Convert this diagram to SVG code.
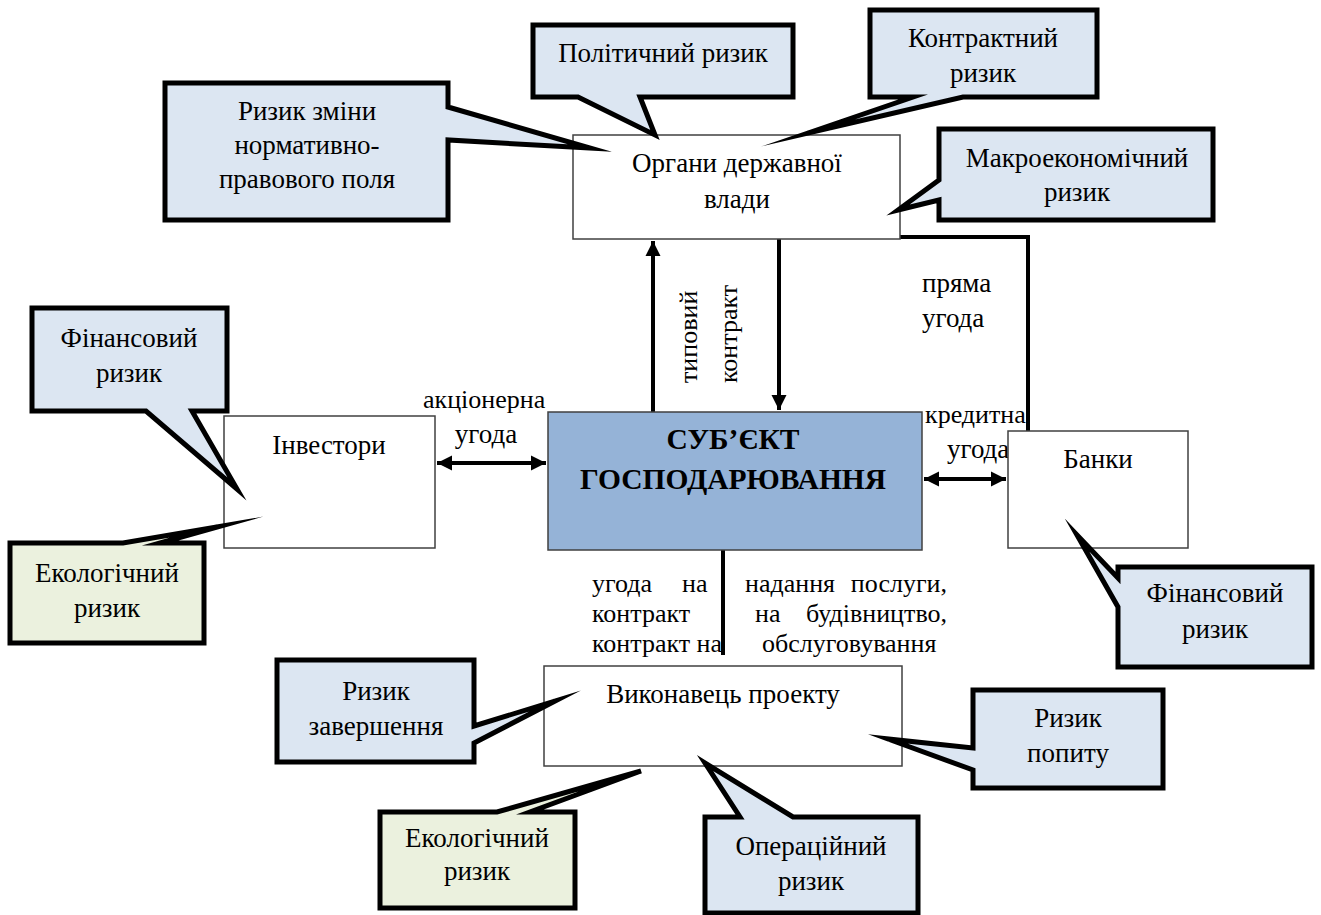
<svg xmlns="http://www.w3.org/2000/svg" width="1321" height="915" viewBox="0 0 1321 915">
<style>
text{font-family:"Liberation Serif", "Times New Roman", serif;font-size:27px;fill:#000}
.c{text-anchor:middle}
.e{text-anchor:end}
.b{font-weight:bold;font-size:29.5px}
.co{stroke:#000;stroke-width:5;stroke-linejoin:miter;stroke-miterlimit:20}
.blue{fill:#dce6f2}
.green{fill:#ebf1de}
.node{fill:#fff;stroke:#404040;stroke-width:1.5}
.main{fill:#95b3d7;stroke:#404040;stroke-width:1.5}
.ln{stroke:#000;stroke-width:4;fill:none}
.v{font-size:26px}
</style>
<defs>
<marker id="ah" viewBox="0 0 10 10" refX="10" refY="5" markerWidth="3.8" markerHeight="3.8" orient="auto-start-reverse" markerUnits="strokeWidth">
<path d="M0,0 L10,5 L0,10 Z" fill="#000"/>
</marker>
</defs>
<rect width="1321" height="915" fill="#fff"/>

<g id="connectors">
<line class="ln" x1="653" y1="412" x2="653" y2="241" marker-end="url(#ah)"/>
<line class="ln" x1="779" y1="239" x2="779" y2="410" marker-end="url(#ah)"/>
<line class="ln" x1="437" y1="463" x2="546" y2="463" marker-start="url(#ah)" marker-end="url(#ah)"/>
<line class="ln" x1="924" y1="479" x2="1006" y2="479" marker-start="url(#ah)" marker-end="url(#ah)"/>
<polyline class="ln" points="900,237 1028,237 1028,431"/>
<line class="ln" x1="723" y1="550" x2="723" y2="655"/>
<text class="v" transform="translate(697,383) rotate(-90)">типовий</text>
<text class="v" transform="translate(737,383) rotate(-90)">контракт</text>
<text x="922" y="292">пряма</text>
<text x="922" y="327">угода</text>
<text class="v" x="925" y="423">кредитна</text>
<text x="947" y="458">угода</text>
<text class="v" x="423" y="408">акціонерна</text>
<text class="c" x="486" y="443">угода</text>
<text class="v" x="592" y="592">угода</text>
<text class="v" x="682" y="592">на</text>
<text class="v" x="745" y="592">надання</text>
<text class="v e" x="947" y="592">послуги,</text>
<text class="v" x="592" y="622">контракт</text>
<text class="v" x="755" y="622">на</text>
<text class="v e" x="947" y="622">будівництво,</text>
<text class="v" x="592" y="652">контракт на</text>
<text class="v" x="762" y="652">обслуговування</text>
</g>

<g id="organy">
<rect class="node" x="573" y="135" width="327" height="104"/>
<text class="c" x="737" y="172">Органи державної</text>
<text class="c" x="737" y="208">влади</text>
</g>

<g id="subiekt">
<rect class="main" x="548" y="412" width="374" height="138"/>
<text class="c b" x="733" y="449">СУБ’ЄКТ</text>
<text class="c b" x="733" y="489">ГОСПОДАРЮВАННЯ</text>
</g>

<g id="investory">
<rect class="node" x="224" y="416" width="211" height="132"/>
<text class="c" x="329" y="454">Інвестори</text>
</g>

<g id="banky">
<rect class="node" x="1008" y="431" width="180" height="117"/>
<text class="c" x="1098" y="468">Банки</text>
</g>

<g id="vykonavets">
<rect class="node" x="544" y="666" width="358" height="100"/>
<text class="c" x="723" y="703">Виконавець проекту</text>
</g>

<g id="polit-ryzyk">
<path class="co blue" d="M533,25 H793 V97 H640 L655,135 L578,97 H533 Z"/>
<text class="c" x="663" y="62">Політичний ризик</text>
</g>

<g id="norm-ryzyk">
<path class="co blue" d="M165,83 H448 V107 L590,148 L448,140 V220 H165 Z"/>
<text class="c" x="307" y="120">Ризик зміни</text>
<text class="c" x="307" y="154">нормативно-</text>
<text class="c" x="307" y="188">правового поля</text>
</g>

<g id="kontr-ryzyk">
<path class="co blue" d="M870,10 H1097 V97 H963 L808,133 L913,97 H870 Z"/>
<text class="c" x="983" y="47">Контрактний</text>
<text class="c" x="983" y="82">ризик</text>
</g>

<g id="makro-ryzyk">
<path class="co blue" d="M939,129 H1213 V220 H939 V200 L898,210 L939,180 Z"/>
<text class="c" x="1077" y="167">Макроекономічний</text>
<text class="c" x="1077" y="201">ризик</text>
</g>

<g id="fin-ryzyk-1">
<path class="co blue" d="M32,308 H227 V411 H192 L237,489 L146,411 H32 Z"/>
<text class="c" x="129" y="347">Фінансовий</text>
<text class="c" x="129" y="382">ризик</text>
</g>

<g id="eko-ryzyk-1">
<path class="co green" d="M10,543 H123 L217,527 L160,543 H204 V643 H10 Z"/>
<text class="c" x="107" y="582">Екологічний</text>
<text class="c" x="107" y="617">ризик</text>
</g>

<g id="fin-ryzyk-2">
<path class="co blue" d="M1118,567 H1312 V667 H1118 V607 L1077,535 L1118,578 Z"/>
<text class="c" x="1215" y="602">Фінансовий</text>
<text class="c" x="1215" y="638">ризик</text>
</g>

<g id="zav-ryzyk">
<path class="co blue" d="M277,660 H474 V726 L555,701 L474,743 V762 H277 Z"/>
<text class="c" x="376" y="700">Ризик</text>
<text class="c" x="376" y="735">завершення</text>
</g>

<g id="eko-ryzyk-2">
<path class="co green" d="M380,812 H497 L641,771 L530,812 H575 V908 H380 Z"/>
<text class="c" x="477" y="847">Екологічний</text>
<text class="c" x="477" y="880">ризик</text>
</g>

<g id="oper-ryzyk">
<path class="co blue" d="M705,817 H740 L705,763 L793,817 H918 V913 H705 Z"/>
<text class="c" x="811" y="855">Операційний</text>
<text class="c" x="811" y="890">ризик</text>
</g>

<g id="popyt-ryzyk">
<path class="co blue" d="M973,690 H1163 V788 H973 V770 L888,739 L973,748 Z"/>
<text class="c" x="1068" y="727">Ризик</text>
<text class="c" x="1068" y="762">попиту</text>
</g>
</svg>
